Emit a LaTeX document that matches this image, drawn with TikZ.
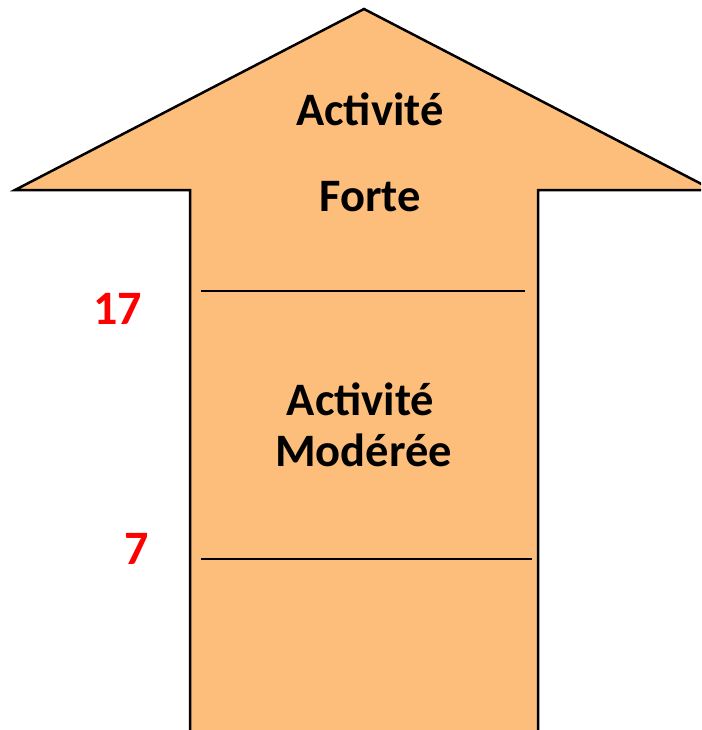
\documentclass[tikz,border=0pt]{standalone}
\usepackage{fontspec}
\setmainfont{Carlito}
\definecolor{arrowfill}{RGB}{252,190,122}
\tikzset{
  lbl/.style={font=\fontsize{46.5}{54}\selectfont\bfseries, anchor=base, inner sep=0pt},
  num/.style={font=\fontsize{48}{56}\selectfont\bfseries, text=red, anchor=base, inner sep=0pt},
  sep/.style={draw=black, line width=1.8pt},
  arrowbody/.style={fill=arrowfill, draw=black, line width=2.5pt, line join=miter}
}
\begin{document}
\begin{tikzpicture}[x=1pt,y=-1pt]
\useasboundingbox (0,0) rectangle (701,730);
\clip (0,0) rectangle (701,730);
\path[arrowbody] (190,745) -- (190,190) -- (15,190) -- (364,9) -- (713,190) -- (538,190) -- (538,745) -- cycle;
\coordinate (s1a) at (201,291);
\coordinate (s1b) at (525,291);
\coordinate (s2a) at (201,559);
\coordinate (s2b) at (532,559);
\draw[sep] (s1a) -- (s1b);
\draw[sep] (s2a) -- (s2b);
\node[lbl] (t1) at (370,126) {Activité};
\node[lbl] (t2) at (370,211) {Forte};
\node[lbl] (t3) at (360.5,415) {Activité};
\node[lbl] (t4) at (363.5,466) {Modérée};
\node[num] (n17) at (117.5,324) {17};
\node[num] (n7) at (137,564) {7};
\end{tikzpicture}
\end{document}
